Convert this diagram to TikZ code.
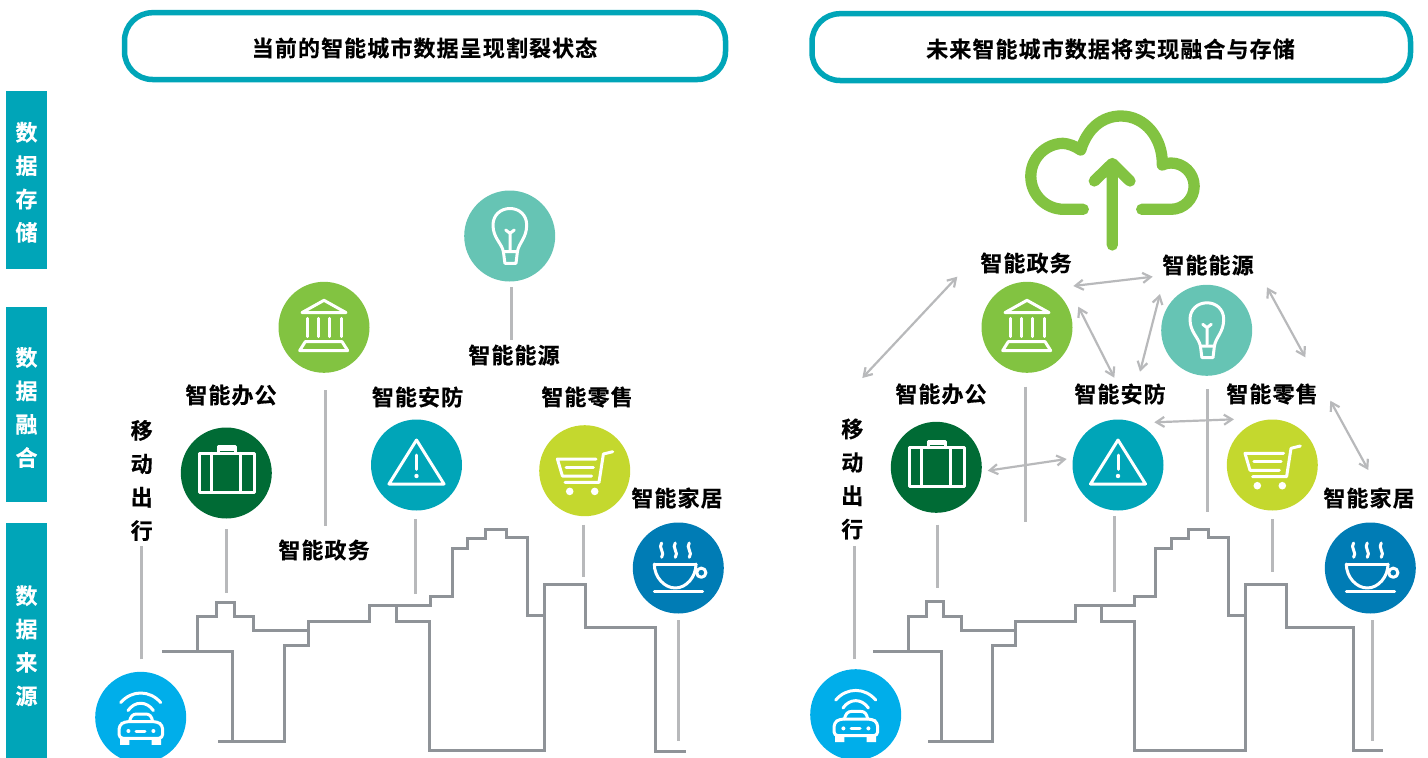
\documentclass[tikz,border=0pt]{standalone}
\usepackage{fontspec}
\usetikzlibrary{arrows.meta}
\newfontfamily\cjkb[LetterSpace=5,FakeBold=0.4]{Noto Sans CJK SC Bold}
\definecolor{teal}{HTML}{00A5B8}
\definecolor{skyc}{HTML}{8F9398}
\definecolor{stemc}{HTML}{B8B9BB}
\definecolor{carc}{HTML}{00AEEA}
\definecolor{briefc}{HTML}{006B35}
\definecolor{govc}{HTML}{82C341}
\definecolor{bulbc}{HTML}{66C4B4}
\definecolor{alarmc}{HTML}{00A5B8}
\definecolor{cartc}{HTML}{C4D82E}
\definecolor{cupc}{HTML}{007CB5}
\tikzset{
  disc/.style={circle,minimum size=91pt,inner sep=0pt,outer sep=0pt,draw=none},
  lab/.style={font=\cjkb\fontsize{22}{22}\selectfont,text=black,inner sep=0pt},
  vlab/.style={font=\cjkb\fontsize{22}{33.4}\selectfont,text=black,inner sep=0pt,align=center},
  wlab/.style={font=\cjkb\fontsize{22}{33.4}\selectfont,text=white,inner sep=0pt,align=center},
  bar/.style={rectangle,fill=teal,minimum width=41pt,inner sep=0pt,outer sep=0pt},
  titlebox/.style={draw=teal,line width=5.5pt,rounded corners=28pt,fill=white},
  sky/.style={draw=skyc,line width=3pt,miter limit=10},
  stem/.style={draw=stemc,line width=3pt},
  link/.style={draw=stemc,line width=2.2pt,{Straight Barb[length=8pt,width=10pt]}-{Straight Barb[length=8pt,width=10pt]}},
  ico/.style={draw=white,line width=3pt,line cap=round,line join=round},
  briefcase/.pic={
    \draw[ico] (-27,-19.7) rectangle (27.7,19.3);
    \draw[ico] (-15.3,-19.7) -- (-15.3,19.3) (13.7,-19.7) -- (13.7,19.3);
    \draw[ico] (-8,-19.7) -- (-8,-26.3) -- (8.7,-26.3) -- (8.7,-19.7);
    \draw[ico] (-8,-23.5) -- (8.7,-23.5);
  },
  alarm/.pic={
    \draw[ico] (0,-25) -- (27.5,19) -- (-27.5,19) -- cycle;
    \draw[ico] (0,-10) -- (0,4.3);
    \fill[white] (0,11) circle (2.2pt);
  },
  trolley/.pic={
    \draw[ico] (11.3,-11.7) -- (-27.3,-11.7) -- (-22.3,5.3) -- (7,5.3);
    \draw[ico] (-18.5,-3.3) -- (8.7,-3.3);
    \draw[ico] (28,-19) -- (18.7,-16.7) -- (14.3,11.7) -- (-19.7,11.7);
    \fill[white] (-15,20.7) circle (3.8pt) (10,20.7) circle (3.8pt);
  },
  cuppa/.pic={
    \foreach \x in {-16.7,-3,11}{
      \draw[ico] (\x,-25) .. controls (\x-4,-21) and (\x+4,-15) .. (\x,-10.7);
    }
    \draw[ico] (-24,-4) -- (17.7,-4);
    \draw[ico] (-24,-4) .. controls (-24,9) and (-14,20) .. (-3,20) .. controls (8,20) and (17.7,9) .. (17.7,-4);
    \draw[ico] (23,4.7) circle (4.6pt);
    \draw[ico] (-24,23) -- (24.3,23);
  },
  bulbic/.pic={
    \draw[ico] (-6.3,15.7) .. controls (-8,7) and (-16.7,2) .. (-16.7,-11)
       .. controls (-16.7,-21) and (-9,-27.5) .. (0.3,-27.5)
       .. controls (9.5,-27.5) and (17,-21) .. (17,-11)
       .. controls (17,2) and (9,7) .. (7.7,15.7) -- cycle;
    \draw[ico] (-6.3,15.7) -- (-4.8,27.3) -- (6.3,27.3) -- (7.7,15.7);
    \draw[ico] (0.3,14) -- (0.3,-2.7) (-4,-6) -- (0.3,-2.7) -- (4.6,-6);
  },
  bank/.pic={
    \draw[ico] (-22,-14.7) -- (0,-27) -- (22,-14.7) -- cycle;
    \draw[ico] (-17,-9) -- (-17,9.3) (-5.3,-9) -- (-5.3,9.3) (5.3,-9) -- (5.3,9.3) (17.3,-9) -- (17.3,9.3);
    \draw[ico] (-18.7,14.3) -- (18,14.3) -- (23.7,23.3) -- (-24.3,23.3) -- cycle;
  },
  auto/.pic={
    \draw[ico] (-20,-14.7) .. controls (-9,-27.5) and (9,-27.5) .. (20,-14.7);
    \draw[ico] (-12.7,-6.7) .. controls (-6,-16.5) and (6,-16.5) .. (12.7,-6.7);
    \draw[ico] (-11.3,4.3) .. controls (-10,-1) and (-8,-3.3) .. (-4,-3.3) -- (5,-3.3) .. controls (9,-3.3) and (11,-1) .. (12,4.3);
    \draw[ico,rounded corners=4pt] (-21.7,21) -- (-21.7,8) -- (-16,4.3) -- (16.5,4.3) -- (22,8) -- (22,21) -- cycle;
    \fill[white] (-20.5,21) rectangle (-11.3,27.5) (11,21) rectangle (20.5,27.5);
    \fill[white] (-12.3,13.7) circle (2pt) (12.7,13.7) circle (2pt);
    \draw[ico] (-4.7,13.7) -- (4.3,13.7);
  },
}
\begin{document}
\begin{tikzpicture}[x=1pt,y=-1pt,line join=miter]
\useasboundingbox (0,0) rectangle (1428,758);
% side bars
\node[bar,minimum height=178pt] (barA) at (26.5,180) {};
\node[bar,minimum height=195pt] (barB) at (26.5,404.5) {};
\node[bar,minimum height=235pt] (barC) at (26.5,640.5) {};
\node[wlab] (barAt) at (26.5,182.3) {数\\据\\存\\储};
\node[wlab] (barBt) at (26.5,407.5) {数\\据\\融\\合};
\node[wlab] (barCt) at (26.5,645.7) {数\\据\\来\\源};
% titles
\draw[titlebox] (124.5,12.7) rectangle (725.5,79.5);
\draw[titlebox] (812,13.7) rectangle (1410.5,80.5);
\node[lab] (titleL) at (424.5,48) {当前的智能城市数据呈现割裂状态};
\node[lab] (titleR) at (1110.5,49) {未来智能城市数据将实现融合与存储};
% skyline left
\draw[sky] (162,651) -- (232.7,651) -- (232.7,741.7);
\draw[sky] (218.3,741.7) -- (284,741.7) -- (284,645.7) -- (308.3,645.7) -- (308.3,621.7) -- (369.3,621.7) -- (369.3,605) -- (396,605) -- (396,621.7) -- (429.8,621.7) -- (429.8,750.7) -- (544.3,750.7) -- (544.3,584) -- (585.7,584) -- (585.7,627.3) -- (655,627.3) -- (655,751) -- (686,751);
\draw[sky] (197.7,651) -- (197.7,616.7) -- (216.7,616.7) -- (216.7,602) -- (234,602) -- (234,616.7) -- (253.3,616.7) -- (253.3,630.3) -- (308.3,630.3);
\draw[sky] (396,605.5) -- (430,605.5) -- (430,596) -- (452,596) -- (452,548.3) -- (467.7,548.3) -- (467.7,538) -- (485.7,538) -- (485.7,529.7) -- (506.7,529.7) -- (506.7,537.3) -- (527,537.3) -- (527,615.7) -- (544.3,615.7);
% skyline right
\draw[sky] (873,651.3) -- (941.7,651.3) -- (941.7,741.7);
\draw[sky] (928.3,741.7) -- (992.3,741.7) -- (992.3,645) -- (1015.7,645) -- (1015.7,621) -- (1075,621) -- (1075,605) -- (1101,605) -- (1101,621) -- (1134,621) -- (1134,750) -- (1245.7,750) -- (1245.7,584.3) -- (1286,584.3) -- (1286,627) -- (1353.3,627) -- (1353.3,750.7) -- (1383.3,750.7);
\draw[sky] (908.3,651.3) -- (908.3,616.7) -- (926.7,616.7) -- (926.7,601.3) -- (943.3,601.3) -- (943.3,616.7) -- (961.7,616.7) -- (961.7,630) -- (1015.7,630);
\draw[sky] (1101,605.3) -- (1134,605.3) -- (1134,596.7) -- (1155.7,596.7) -- (1155.7,548.3) -- (1171,548.3) -- (1171,538.3) -- (1188.7,538.3) -- (1188.7,529.7) -- (1208.7,529.7) -- (1208.7,537.3) -- (1228.3,537.3) -- (1228.3,615.7) -- (1245.7,615.7);
% left discs
\node[disc,fill=carc] (carL) at (140.7,717.3) {};
\node[disc,fill=briefc] (briefL) at (226.3,473) {};
\node[disc,fill=govc] (govL) at (324,327.3) {};
\node[disc,fill=alarmc] (alarmL) at (416.5,465) {};
\node[disc,fill=cartc] (cartL) at (584.7,470.7) {};
\node[disc,fill=cupc] (cupL) at (678.3,568) {};
\node[disc,fill=bulbc] (bulbL) at (509.7,236) {};
% right discs
\node[disc,fill=carc] (carR) at (855.7,714.7) {};
\node[disc,fill=briefc] (briefR) at (936.3,467.3) {};
\node[disc,fill=govc] (govR) at (1027,327.3) {};
\node[disc,fill=alarmc] (alarmR) at (1118,465) {};
\node[disc,fill=cartc] (cartR) at (1272.3,465) {};
\node[disc,fill=cupc] (cupR) at (1370.3,568) {};
\node[disc,fill=bulbc] (bulbR) at (1206.7,330.3) {};
% icons
\pic at (carL) {auto}; \pic at (carR) {auto};
\pic at (briefL) {briefcase}; \pic at (briefR) {briefcase};
\pic at (govL) {bank}; \pic at (govR) {bank};
\pic at (alarmL) {alarm}; \pic at (alarmR) {alarm};
\pic at (cartL) {trolley}; \pic at (cartR) {trolley};
\pic at (cupL) {cuppa}; \pic at (cupR) {cuppa};
\pic at (bulbL) {bulbic}; \pic at (bulbR) {bulbic};
% labels
\node[lab] (tOfficeL) at (231,395) {智能办公};
\node[lab] (tGovL) at (324,550) {智能政务};
\node[lab] (tSafeL) at (417.5,397) {智能安防};
\node[lab] (tShopL) at (587,397) {智能零售};
\node[lab] (tEnergyL) at (514,355) {智能能源};
\node[lab] (tHomeL) at (677,498) {智能家居};
\node[vlab] (tMoveL) at (141.7,480.5) {移\\动\\出\\行};
\node[lab] (tOfficeR) at (941,394) {智能办公};
\node[lab] (tGovR) at (1026,263) {智能政务};
\node[lab] (tSafeR) at (1120,394) {智能安防};
\node[lab] (tShopR) at (1272,394) {智能零售};
\node[lab] (tEnergyR) at (1208,265) {智能能源};
\node[lab] (tHomeR) at (1369,498) {智能家居};
\node[vlab] (tMoveR) at (852.3,479) {移\\动\\出\\行};
% stems: free ends
\coordinate (eCarL) at (141,546);
\coordinate (eBriefL) at (226,592.7);
\coordinate (eGovL) at (325.3,526);
\coordinate (eAlarmL) at (415.3,594.3);
\coordinate (eCartL) at (583.3,577.3);
\coordinate (eCupL) at (678.3,741);
\coordinate (eBulbL) at (511.3,340);
\coordinate (eCarR) at (854.3,545.7);
\coordinate (eBriefR) at (937.3,588.3);
\coordinate (eGovR) at (1025,522.3);
\coordinate (eAlarmR) at (1114.3,591.7);
\coordinate (eCartR) at (1272,571.7);
\coordinate (eCupR) at (1372.3,740.7);
\coordinate (eBulbR) at (1207,512.3);
\draw[stem,shorten <=12.5pt] (carL.north -| eCarL) -- (eCarL);
\draw[stem,shorten <=10.8pt] (briefL.south -| eBriefL) -- (eBriefL);
\draw[stem,shorten <=17.2pt] (govL.south -| eGovL) -- (eGovL);
\draw[stem,shorten <=8.8pt] (alarmL.south -| eAlarmL) -- (eAlarmL);
\draw[stem,shorten <=8.5pt] (cartL.south -| eCartL) -- (eCartL);
\draw[stem,shorten <=6.8pt] (cupL.south -| eCupL) -- (eCupL);
\draw[stem,shorten <=5.5pt] (bulbL.south -| eBulbL) -- (eBulbL);
\draw[stem,shorten <=9.9pt] (carR.north -| eCarR) -- (eCarR);
\draw[stem,shorten <=11.9pt] (briefR.south -| eBriefR) -- (eBriefR);
\draw[stem,shorten <=13.9pt] (govR.south -| eGovR) -- (eGovR);
\draw[stem,shorten <=5.8pt] (alarmR.south -| eAlarmR) -- (eAlarmR);
\draw[stem,shorten <=8.5pt] (cartR.south -| eCartR) -- (eCartR);
\draw[stem,shorten <=6.8pt] (cupR.south -| eCupR) -- (eCupR);
\draw[stem,shorten <=13.2pt] (bulbR.south -| eBulbR) -- (eBulbR);
% double arrows
\coordinate (a1) at (862.3,378); \coordinate (a2) at (957.3,276.7);
\coordinate (b1) at (1073.3,286); \coordinate (b2) at (1152.7,276.7);
\coordinate (c1) at (1078.3,306.7); \coordinate (c2) at (1114.3,377.7);
\coordinate (d1) at (1140,371.7); \coordinate (d2) at (1160,294);
\coordinate (f1) at (1267,287.3); \coordinate (f2) at (1305.3,357.3);
\coordinate (g1) at (987.7,470.7); \coordinate (g2) at (1066.7,459);
\coordinate (h1) at (1154.3,422.3); \coordinate (h2) at (1234,419.3);
\coordinate (i1) at (1330.3,400.7); \coordinate (i2) at (1368.3,470);
\draw[link] (a1) -- (a2);
\draw[link] (b1) -- (b2);
\draw[link] (c1) -- (c2);
\draw[link] (d1) -- (d2);
\draw[link] (f1) -- (f2);
\draw[link] (g1) -- (g2);
\draw[link] (h1) -- (h2);
\draw[link] (i1) -- (i2);
% cloud
\draw[draw=govc,line width=11.3pt,line cap=round,line join=round]
  (1083.3,209.3) -- (1063.8,209.3)
  arc[start angle=-90,end angle=-268,radius=33pt]
  .. controls (1068,143.5) and (1075,146) .. (1080.7,150)
  .. controls (1087,129) and (1102,116) .. (1121,116)
  .. controls (1145,116) and (1163,138) .. (1162.3,165)
  .. controls (1166,163.5) and (1168,163) .. (1171,163)
  arc[start angle=90,end angle=-90,radius=23.15pt]
  -- (1141.7,209.3);
\draw[draw=govc,line width=11.3pt,line cap=round,line join=round]
  (1112.3,245) -- (1112.3,163.5)
  (1094.3,181) -- (1112.3,163.5) -- (1130,181);
\end{tikzpicture}
\end{document}
